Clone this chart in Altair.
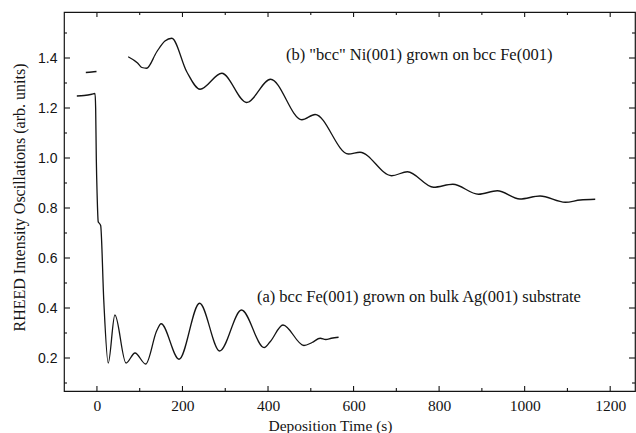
import altair as alt
import pandas as pd

# Series (a): bcc Fe(001) on Ag(001), including pre-deposition level and drop
a_x = [-47, -30, -12, -4.5, -3, -1.5, 0.5, 3, 5, 8.7, 16, 26.4, 42, 68, 89, 114,
       140, 150, 192, 240, 287, 338, 391, 405, 435, 484, 503, 522, 535, 548, 565]
a_y = [1.248, 1.25, 1.255, 1.258, 1.2, 1.0, 0.85, 0.745, 0.74, 0.73, 0.43, 0.18,
       0.372, 0.18, 0.22, 0.176, 0.31, 0.337, 0.195, 0.419, 0.228, 0.392, 0.242,
       0.265, 0.332, 0.25, 0.262, 0.279, 0.274, 0.279, 0.283]

# Pre-deposition level for series (b)
bpre_x = [-26, -12, -1]
bpre_y = [1.342, 1.344, 1.346]

# Series (b): "bcc" Ni(001) on bcc Fe(001)
b_x = [73, 95, 105, 116, 140, 159, 175, 210, 241, 292, 350, 406, 479, 510, 588,
       615, 689, 726, 787, 832, 892, 936, 989, 1036, 1095, 1130, 1165]
b_y = [1.405, 1.38, 1.362, 1.359, 1.425, 1.468, 1.479, 1.345, 1.275, 1.339, 1.222,
       1.315, 1.153, 1.174, 1.016, 1.023, 0.929, 0.945, 0.883, 0.895, 0.855, 0.869,
       0.836, 0.848, 0.823, 0.832, 0.835]

# Tick values
x_major = [0, 200, 400, 600, 800, 1000, 1200]
x_minor = [100, 300, 500, 700, 900, 1100]
y_major = [0.2, 0.4, 0.6, 0.8, 1.0, 1.2, 1.4]
y_minor = [0.1, 0.3, 0.5, 0.7, 0.9, 1.1, 1.3, 1.5]

# Annotations
ann_text = ['(b) "bcc" Ni(001) grown on bcc Fe(001)',
            "(a) bcc Fe(001) grown on bulk Ag(001) substrate"]
ann_x = [442, 374]
ann_y = [1.392, 0.424]

W, H = 571, 379
SERIF = "Liberation Serif"
SANS = "Liberation Sans"
INK = "#141414"

lines = pd.concat([
    pd.DataFrame({"x": a_x, "y": a_y, "s": "a"}),
    pd.DataFrame({"x": bpre_x, "y": bpre_y, "s": "bpre"}),
    pd.DataFrame({"x": b_x, "y": b_y, "s": "b"}),
])

xs = alt.Scale(domain=[-77, 1258], nice=False, zero=False)
ys = alt.Scale(domain=[0.068, 1.584], nice=False, zero=False)

x_axis = alt.Axis(
    values=x_major, format="d", title="Deposition Time (s)",
    grid=False, ticks=False, tickSize=0, domain=False,
    labelFont=SERIF, labelFontSize=15.5, labelColor=INK, labelPadding=7,
    titleFont=SERIF, titleFontSize=15.5, titleFontWeight="normal",
    titleColor=INK, titleX=266, titleY=39, titleBaseline="alphabetic",
    titleAlign="center")
y_axis = alt.Axis(
    values=y_major, format=".1f",
    title="RHEED Intensity Oscillations (arb. units)",
    grid=False, ticks=False, tickSize=0, domain=False,
    labelFont=SANS, labelFontSize=14, labelColor=INK, labelPadding=7,
    titleFont=SERIF, titleFontSize=16, titleFontWeight="normal",
    titleColor=INK, titleX=-40, titleY=185, titleAngle=-90,
    titleBaseline="alphabetic", titleAlign="center")

XT = "Deposition Time (s)"
YT = "RHEED Intensity Oscillations (arb. units)"

base_lines = alt.Chart(lines).mark_line(
    interpolate="monotone", color=INK, strokeWidth=1.3
).encode(
    x=alt.X("x:Q", scale=xs, axis=x_axis, title=XT),
    y=alt.Y("y:Q", scale=ys, axis=y_axis, title=YT),
    detail="s:N",
)

ydf = pd.concat([pd.DataFrame({"v": y_major, "k": "M"}),
                 pd.DataFrame({"v": y_minor, "k": "m"})])
xdf = pd.concat([pd.DataFrame({"v": x_major, "k": "M"}),
                 pd.DataFrame({"v": x_minor, "k": "m"})])

def yticks(df, x0, x1):
    return alt.Chart(df).mark_rule(color=INK, strokeWidth=1.1).encode(
        y=alt.Y("v:Q", scale=ys, axis=y_axis, title=YT),
        x=alt.value(x0), x2=alt.value(x1))

def xticks(df, y0, y1):
    return alt.Chart(df).mark_rule(color=INK, strokeWidth=1.1).encode(
        x=alt.X("v:Q", scale=xs, axis=x_axis, title=XT),
        y=alt.value(y0), y2=alt.value(y1))

yM = ydf[ydf.k == "M"]
ym = ydf[ydf.k == "m"]
xM = xdf[xdf.k == "M"]
xm = xdf[xdf.k == "m"]

ticks = [
    yticks(yM, 0, 6), yticks(ym, 0, 3),
    yticks(yM, W, W - 6), yticks(ym, W, W - 3),
    xticks(xM, H, H - 5), xticks(xm, H, H - 3),
    xticks(xM, 0, 5), xticks(xm, 0, 3),
]

ann = alt.Chart(pd.DataFrame({"t": ann_text, "x": ann_x, "y": ann_y})).mark_text(
    align="left", baseline="alphabetic", font=SERIF, fontSize=16.5, color=INK
).encode(
    x=alt.X("x:Q", scale=xs, axis=x_axis, title=XT),
    y=alt.Y("y:Q", scale=ys, axis=y_axis, title=YT),
    text="t:N",
)

chart = alt.layer(base_lines, ann, *ticks).properties(
    width=W, height=H,
    autosize=alt.AutoSizeParams(type="none"),
    padding={"left": 64, "top": 12, "right": 1, "bottom": 42},
    background="white",
).configure_view(stroke=INK, strokeWidth=1.2)

chart.save("out.html", embed_options={"renderer": "svg", "actions": False})
